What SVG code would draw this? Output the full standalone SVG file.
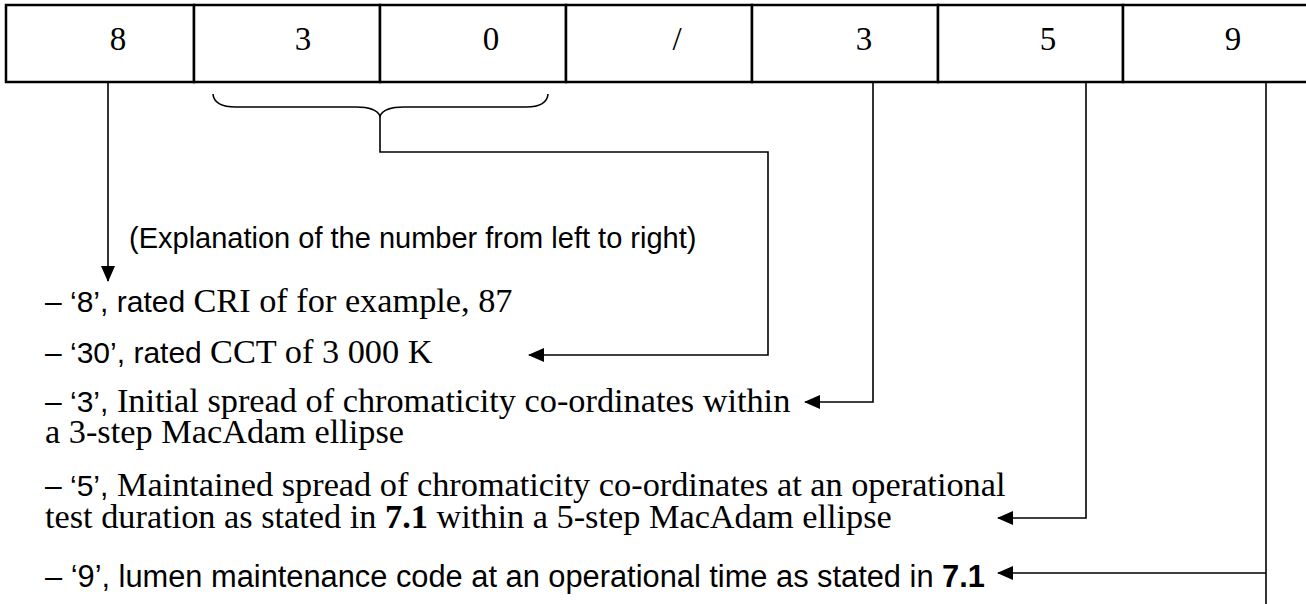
<svg xmlns="http://www.w3.org/2000/svg" width="1306" height="604" viewBox="0 0 1306 604">
<style>
.cell{fill:#fff;stroke:#000;stroke-width:2.5}
.dig{font-family:"Liberation Serif","Times New Roman",serif;font-size:33px;text-anchor:middle;fill:#000}
.conn{fill:none;stroke:#000;stroke-width:1.6}
.sans{font-family:"Liberation Sans",Arial,sans-serif;font-size:30px;fill:#000}
.serif{font-family:"Liberation Serif","Times New Roman",serif;font-size:34.3px}
.b{font-weight:bold}
</style>
<defs>
<marker id="ah" markerWidth="16" markerHeight="14" refX="15" refY="7" orient="auto" markerUnits="userSpaceOnUse"><path d="M0,0 L16,7 L0,14 z" fill="#000"/></marker>
</defs>
<rect width="1306" height="604" fill="#fff"/>
<g id="table">
<g id="cell-8"><rect class="cell" x="6" y="5" width="188" height="77"/><text class="dig" x="118" y="50">8</text></g>
<g id="cell-3a"><rect class="cell" x="194" y="5" width="186" height="77"/><text class="dig" x="303" y="50">3</text></g>
<g id="cell-0"><rect class="cell" x="380" y="5" width="186" height="77"/><text class="dig" x="491" y="50">0</text></g>
<g id="cell-slash"><rect class="cell" x="566" y="5" width="186" height="77"/><text class="dig" x="677" y="50">/</text></g>
<g id="cell-3b"><rect class="cell" x="752" y="5" width="186" height="77"/><text class="dig" x="864" y="50">3</text></g>
<g id="cell-5"><rect class="cell" x="938" y="5" width="185" height="77"/><text class="dig" x="1048" y="50">5</text></g>
<g id="cell-9"><rect class="cell" x="1123" y="5" width="200" height="77"/><text class="dig" x="1233" y="50">9</text></g>
</g>
<g id="connectors">
<path class="conn" d="M108,83 L108,281" marker-end="url(#ah)"/>
<path class="conn" d="M213,94 Q214,107 236,107 L356,107 Q376,107 380,116 Q384,107 404,107 L526,107 Q547,107 548,94"/>
<path class="conn" d="M380,116 L380,152 L768,152 L768,355 L529,355" marker-end="url(#ah)"/>
<path class="conn" d="M873,83 L873,402 L805,402" marker-end="url(#ah)"/>
<path class="conn" d="M1086,83 L1086,518 L998,518" marker-end="url(#ah)"/>
<path class="conn" d="M1266,83 L1266,604"/>
<path class="conn" d="M1266,573 L998,573" marker-end="url(#ah)"/>
</g>
<g id="explanation"><text class="sans" x="129" y="248" style="font-size:29px">(Explanation of the number from left to right)</text></g>
<g id="item-8"><text class="sans" x="45" y="312">– ‘8’, rated <tspan class="serif">CRI of for example, 87</tspan></text></g>
<g id="item-30"><text class="sans" x="45" y="363">– ‘30’, rated <tspan class="serif">CCT of 3 000 K</tspan></text></g>
<g id="item-3"><text class="sans" x="45" y="412">– ‘3’,<tspan class="serif"> Initial spread of chromaticity co-ordinates within</tspan></text>
<text class="serif" x="45" y="443">a 3-step MacAdam ellipse</text></g>
<g id="item-5"><text class="sans" x="45" y="496">– ‘5’,<tspan class="serif"> Maintained spread of chromaticity co-ordinates at an operational</tspan></text>
<text class="serif" x="45" y="528">test duration as stated in <tspan class="b">7.1</tspan> within a 5-step MacAdam ellipse</text></g>
<g id="item-9"><text class="sans" x="45" y="587" style="font-size:30.8px">– ‘9’, lumen maintenance code at an operational time as stated in <tspan class="b">7.1</tspan></text></g>
</svg>
